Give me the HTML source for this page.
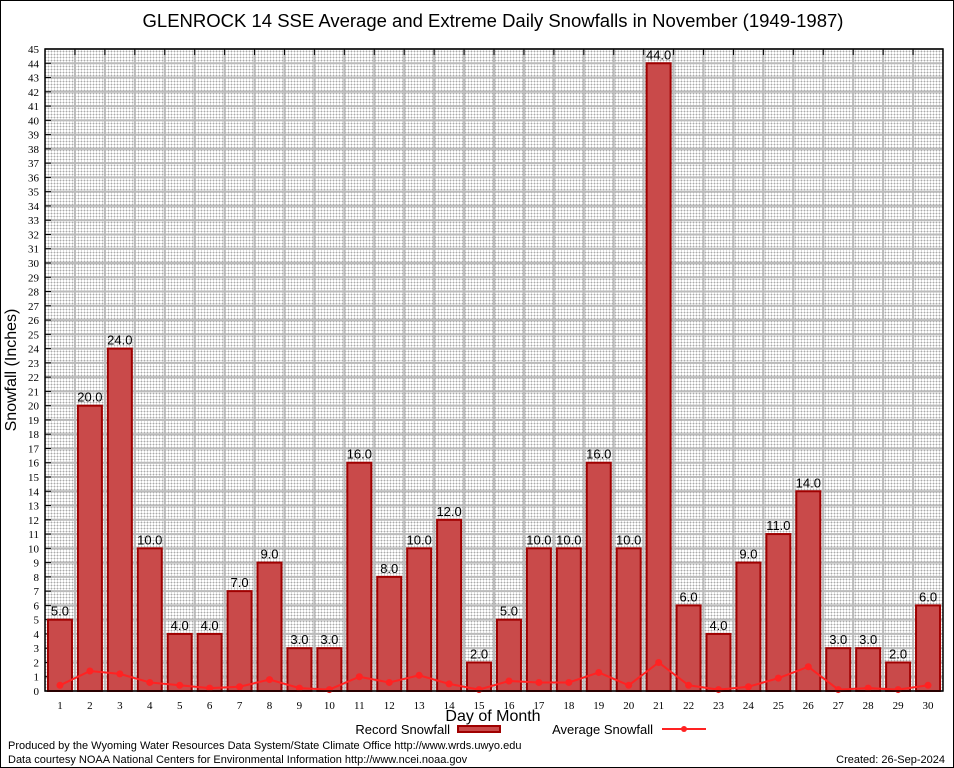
<!DOCTYPE html>
<html><head><meta charset="utf-8"><style>
html,body{margin:0;padding:0;background:#fff}
svg{display:block;font-family:"Liberation Sans",sans-serif}
</style></head><body>
<svg id="chart" width="954" height="768" viewBox="0 0 954 768" xmlns="http://www.w3.org/2000/svg">
<defs>
<pattern id="minor" width="3" height="3" patternUnits="userSpaceOnUse"><rect width="3" height="3" fill="#fff"/><rect width="3" height="1" fill="#ddd"/><rect width="1" height="3" fill="#ddd"/><rect width="1" height="1" fill="#aaa"/></pattern>
</defs>
<rect x="0.5" y="0.5" width="953" height="767" fill="#fff" stroke="#000"/>
<text x="493" y="27" font-size="18.5" text-anchor="middle">GLENROCK 14 SSE Average and Extreme Daily Snowfalls in November (1949-1987)</text>
<g id="plot"></g>
<text transform="translate(16,370) rotate(-90)" font-size="16" text-anchor="middle">Snowfall (Inches)</text>
<text x="493" y="721" font-size="16" text-anchor="middle">Day of Month</text>
<g>
<text x="450" y="734" font-size="13" text-anchor="end">Record Snowfall</text>
<rect x="458" y="726" width="42" height="6" fill="#c94a4a" stroke="#a00000" stroke-width="2"/>
<text x="653" y="734" font-size="13" text-anchor="end">Average Snowfall</text>
<line x1="662" y1="729" x2="706" y2="729" stroke="#f22" stroke-width="2"/>
<circle cx="684" cy="729" r="3" fill="#f22"/>
</g>
<text x="8" y="749" font-size="11">Produced by the Wyoming Water Resources Data System/State Climate Office http://www.wrds.uwyo.edu</text>
<text x="8" y="763" font-size="11">Data courtesy NOAA National Centers for Environmental Information http://www.ncei.noaa.gov</text>
<text x="945" y="763" font-size="11" text-anchor="end">Created: 26-Sep-2024</text>
</svg>
<script>
const days = [1,2,3,4,5,6,7,8,9,10,11,12,13,14,15,16,17,18,19,20,21,22,23,24,25,26,27,28,29,30];
const recordSnow = [5,20,24,10,4,4,7,9,3,3,16,8,10,12,2,5,10,10,16,10,44,6,4,9,11,14,3,3,2,6];
const avgSnow = [0.4,1.4,1.2,0.6,0.4,0.2,0.3,0.8,0.2,0.1,1.0,0.6,1.1,0.5,0.1,0.7,0.6,0.6,1.3,0.4,2.0,0.4,0.1,0.3,0.9,1.7,0.1,0.2,0.1,0.4];
const yTicks = Array.from({length:46},(_,i)=>i);

const L=45,R=943,T=49,B=691,YMAX=45;
const NS='http://www.w3.org/2000/svg';
const g=document.getElementById('plot');
const dw=(R-L)/days.length;
const x=d=>L+(d-0.5)*dw;
const y=v=>B-(v/YMAX)*(B-T);
function mk(t,a,p){const e=document.createElementNS(NS,t);for(const k in a)e.setAttribute(k,a[k]);(p||g).appendChild(e);return e;}

const bg=mk('rect',{x:L,y:T,width:R-L,height:B-T,fill:'url(#minor)'});


yTicks.forEach(v=>{
  const ln=mk('line',{x1:L,x2:R,y1:y(v),y2:y(v),stroke:'#bbb','stroke-width':2});
  
  
  const tk=mk('line',{x1:L,x2:L+6,y1:y(v),y2:y(v),stroke:'#000'});
  
  
  const t=mk('text',{x:L-6,y:y(v)+4,'font-size':11,'text-anchor':'end','font-family':'Liberation Serif, serif'});
  t.textContent=v;
  
  
});
days.forEach((d,i)=>{
  if(i>0){const vl=mk('line',{x1:L+i*dw,x2:L+i*dw,y1:T,y2:B,stroke:'#bbb','stroke-width':2});
  
  
  const tk=mk('line',{x1:L+i*dw,x2:L+i*dw,y1:T,y2:T+6,stroke:'#000'});
  
  }
  const t=mk('text',{x:x(d),y:B+18,'font-size':11,'text-anchor':'middle','font-family':'Liberation Serif, serif'});
  t.textContent=d;
  
  
});
days.forEach((d,i)=>{
  const v=recordSnow[i];
  const b=mk('rect',{x:x(d)-12,y:y(v),width:24,height:B-y(v),fill:'#c94a4a',stroke:'#a00000','stroke-width':2});
  
  
  const t=mk('text',{x:x(d),y:y(v)-4,'font-size':13,'text-anchor':'middle'});
  t.textContent=v.toFixed(1);
  
  
});
const pts=days.map((d,i)=>x(d)+','+y(avgSnow[i])).join(' ');
const pl=mk('polyline',{points:pts,fill:'none',stroke:'#f22','stroke-width':2});


days.forEach((d,i)=>{
  const c=mk('circle',{cx:x(d),cy:y(avgSnow[i]),r:3.5,fill:'#f22'});
  
  
});
const fr=mk('rect',{x:L,y:T,width:R-L,height:B-T,fill:'none',stroke:'#000','stroke-width':1.5});


</script>
</body></html>
